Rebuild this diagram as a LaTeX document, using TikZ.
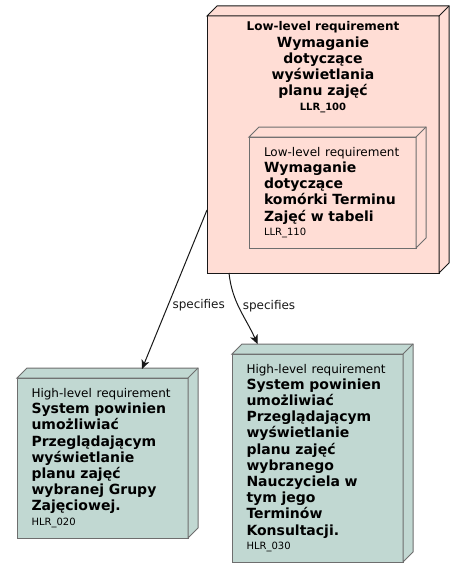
\documentclass[tikz,border=0pt]{standalone}
\usepackage{fontspec}
\setmainfont{DejaVu Sans}
\usepackage{tikz}
\usetikzlibrary{positioning,arrows.meta}
\definecolor{llrpink}{HTML}{FFDDD5}
\definecolor{hlrteal}{HTML}{C1D8D2}
\definecolor{boxgray}{HTML}{6E6E6E}
\definecolor{linedark}{HTML}{181818}
\newcommand{\reqkind}[1]{{\fontsize{12}{14}\selectfont\mdseries #1}}
\newcommand{\reqid}[1]{{\fontsize{10}{12}\selectfont\mdseries #1}}

\begin{document}
\begin{tikzpicture}[x=1pt, y=1pt,
    reqbox/.style={draw=boxgray, line width=1pt, outer sep=0pt, inner ysep=0pt, align=left,
        font=\fontsize{14}{16.2}\selectfont\bfseries},
    lbl/.style={font=\fontsize{12}{14}\selectfont, inner sep=0pt},
    >={Stealth[length=9pt, width=8pt, inset=2.5pt]}]
    \useasboundingbox (0,0) rectangle (465,-578);
        % low-level requirements
        \node[reqbox, draw=linedark, fill=llrpink, minimum width=232pt, minimum height=257pt] (llr100) at (323,-144.5) {};
        \node[below=5.5pt of llr100.north, align=center, inner sep=0pt, font=\fontsize{14}{16.2}\selectfont\bfseries] (llr100txt)
            {{\fontsize{12}{14}\selectfont Low-level requirement}\\Wymaganie\\dotyczące\\wyświetlania\\planu zajęć\\[-1.8pt]{\fontsize{10}{12}\selectfont LLR\_100}};
        \node[reqbox, fill=llrpink, text width=137pt, inner xsep=15pt, minimum height=111pt] (llr110) at (332.5,-192.5)
            {\reqkind{Low-level requirement}\\Wymaganie\\dotyczące\\komórki Terminu\\Zajęć w tabeli\\[-1.8pt]\reqid{LLR\_110}};
        % high-level requirements
        \node[reqbox, fill=hlrteal, text width=142pt, inner xsep=14.5pt, minimum height=160pt] (hlr020) at (102.5,-458)
            {\reqkind{High-level requirement}\\System powinien\\umożliwiać\\Przeglądającym\\wyświetlanie\\planu zajęć\\wybranej Grupy\\Zajęciowej.\\[-1.8pt]\reqid{HLR\_020}};
        \node[reqbox, fill=hlrteal, text width=142pt, inner xsep=14.5pt, minimum height=208pt, right=44pt of hlr020] (hlr030)
            {\reqkind{High-level requirement}\\System powinien\\umożliwiać\\Przeglądającym\\wyświetlanie\\planu zajęć\\wybranego\\Nauczyciela w\\tym jego\\Terminów\\Konsultacji.\\[-1.8pt]\reqid{HLR\_030}};
        % depth faces
        \foreach \n/\c/\d in {llr100/llrpink/linedark, llr110/llrpink/boxgray, hlr020/hlrteal/boxgray, hlr030/hlrteal/boxgray} {
            \filldraw[fill=\c, draw=\d, line width=1pt] (\n.north west) -- ++(10,10) -- ([shift={(10pt,10pt)}]\n.north east)
                -- ([shift={(10pt,10pt)}]\n.south east) -- (\n.south east) -- (\n.north east) -- cycle;
            \draw[\d, line width=1pt] (\n.north east) -- ++(10,10);
        }
        \draw[->, linedark, line width=1pt] ([yshift=-65.5pt]llr100.west) -- node[pos=0.6, anchor=west, xshift=4pt, lbl] (spec1) {specifies} ([shift={(39.5pt,9pt)}]hlr020.north);
        \draw[->, linedark, line width=1pt] ([xshift=22pt]llr100.south west) to[out=-84, in=114] node[pos=0.45, anchor=west, xshift=4pt, lbl] (spec2) {specifies} ([shift={(-60pt,10pt)}]hlr030.north);
    \end{tikzpicture}
\end{document}
